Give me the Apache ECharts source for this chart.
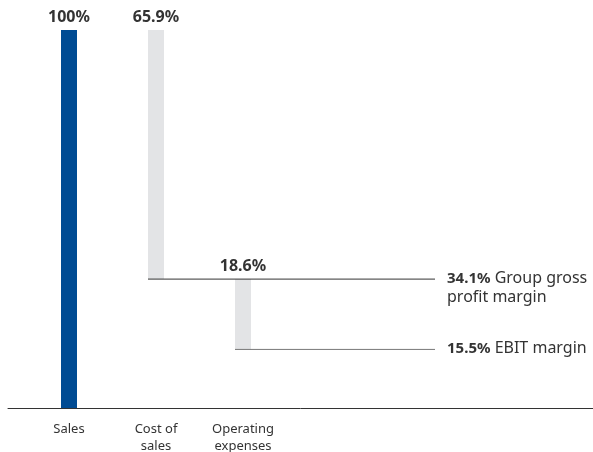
<!DOCTYPE html>
<html lang="en">
<head>
<meta charset="UTF-8">
<title>Margins</title>
<script src="https://cdn.jsdelivr.net/npm/echarts@6/dist/echarts.min.js"></script>
<style>html,body{margin:0;padding:0;background:#fff;}</style>
</head>
<body>
<div id="main" style="width:593px;height:452px;"></div>
<script type="text/javascript">
var categories = ['Sales', 'Cost of\nsales', 'Operating\nexpenses'];
var steps = [100, 65.9, 18.6];
var margins = [34.1, 15.5];
var marginNames = ['Group gross\nprofit margin', 'EBIT margin'];

var chart = echarts.init(document.getElementById('main'));

// each step floats from what is left before it down to what remains after it
var tops = [100, 100, 100 - steps[1]];
var barData = steps.map(function (v, i) { return [i, tops[i] - v, tops[i]]; });

var unit = 87;            // px between bar centres
var half = 8 / unit;      // half bar width in axis units
var xMin = -61 / unit;
var xMax = xMin + 585 / unit;
var lineEnd = (435 - 69) / unit;

var font = '"Noto Sans", "Open Sans", sans-serif';

function lineSeries(i, color) {
    return {
        type: 'line',
        data: [[i + 1 - half, margins[i]], [lineEnd, margins[i]]],
        showSymbol: false,
        silent: true,
        lineStyle: { color: color, width: 1 },
        endLabel: {
            show: true,
            distance: 12,
            fontFamily: font,
            fontSize: 16,
            color: '#333',
            align: 'left',
            verticalAlign: 'top',
            offset: [0, -10],
            lineHeight: 19,
            formatter: function () {
                return '{b|' + margins[i].toFixed(1) + '%} ' + marginNames[i];
            },
            rich: {
                b: { fontWeight: 'bold', fontSize: 15, color: '#333', fontFamily: font, lineHeight: 19 }
            }
        }
    };
}

var option = {
    animation: false,
    grid: { left: 8, right: 0, top: 30, bottom: 44, outerBoundsMode: 'none' },
    xAxis: {
        type: 'value',
        min: xMin,
        max: xMax,
        splitLine: { show: false },
        axisLine: { show: true, onZero: false, lineStyle: { color: '#333', width: 1 } },
        axisTick: { show: false },
        axisLabel: {
            customValues: [0, 1, 2],
            margin: 13,
            fontFamily: font,
            fontSize: 13,
            color: '#333',
            lineHeight: 17,
            formatter: function (v) { return categories[Math.round(v)] || ''; }
        }
    },
    yAxis: { type: 'value', min: 0, max: 100, show: false },
    series: [{
        type: 'custom',
        data: barData,
        z: 1,
        renderItem: function (params, api) {
            var i = api.value(0);
            var p0 = api.coord([i, api.value(1)]);
            var p1 = api.coord([i, api.value(2)]);
            var s = steps[params.dataIndex];
            return {
                type: 'group',
                children: [{
                    type: 'rect',
                    shape: { x: p0[0] - 8, y: p1[1], width: 16, height: p0[1] - p1[1] },
                    style: { fill: params.dataIndex === 0 ? '#004b93' : '#e3e4e6' }
                }, {
                    type: 'text',
                    x: p1[0],
                    y: p1[1] - 5,
                    style: {
                        text: (s === 100 ? '100' : s.toFixed(1)) + '%',
                        fontFamily: font,
                        fontSize: 16,
                        fontWeight: 'bold',
                        fill: '#333',
                        align: 'center',
                        verticalAlign: 'bottom'
                    }
                }]
            };
        }
    },
    lineSeries(0, '#333'),
    lineSeries(1, '#777')]
};

chart.setOption(option);
</script>
</body>
</html>
